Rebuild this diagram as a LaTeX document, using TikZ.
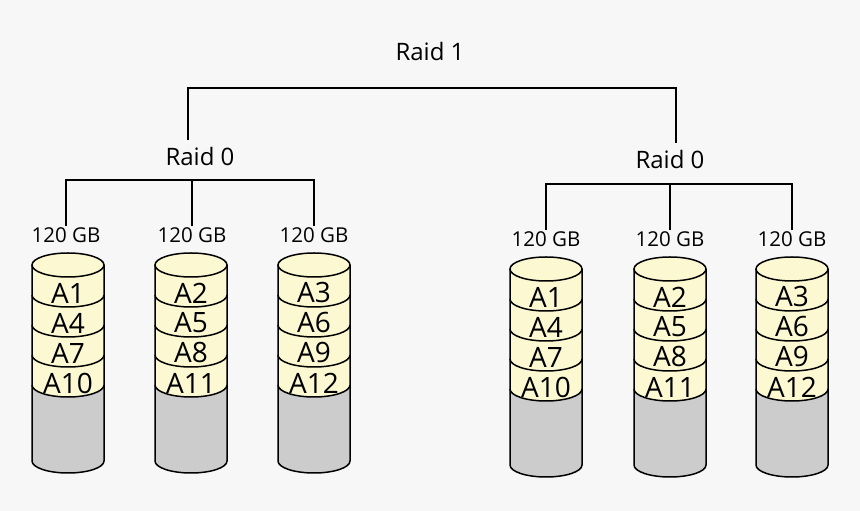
\documentclass[tikz,border=0pt]{standalone}
\usepackage{fontspec}
\setmainfont{Open Sans}
\definecolor{bg}{HTML}{F7F7F7}
\definecolor{band}{HTML}{FBF8D2}
\definecolor{base}{HTML}{CCCCCC}
\newcommand\mycyl[6]{% cx, top cy, four labels
\fill[band] ({#1-36},{#2}) -- ({#1-36},{#2-120}) arc[start angle=180,end angle=360,x radius=36,y radius=12] -- ({#1+36},{#2}) arc[start angle=0,end angle=180,x radius=36,y radius=12] -- cycle;
\fill[base] ({#1-36},{#2-120}) -- ({#1-36},{#2-196}) arc[start angle=180,end angle=360,x radius=36,y radius=12] -- ({#1+36},{#2-120}) arc[start angle=0,end angle=-180,x radius=36,y radius=12] -- cycle;
\draw[cyl] (#1,#2) ellipse[x radius=36,y radius=12];
\foreach \k in {1,2,3,4}{\draw[cyl] ({#1-36},{#2-30*\k}) arc[start angle=180,end angle=360,x radius=36,y radius=12];}
\draw[cyl] ({#1-36},{#2}) -- ({#1-36},{#2-196}) arc[start angle=180,end angle=360,x radius=36,y radius=12] -- ({#1+36},{#2});
\node[lab] at (#1,{#2-28}) {#3};
\node[lab] at (#1,{#2-58}) {#4};
\node[lab] at (#1,{#2-88}) {#5};
\node[lab] at (#1,{#2-118}) {#6};
}
\begin{document}
\begin{tikzpicture}[x=1pt,y=1pt,
  cyl/.style={line width=1.5pt,black},
  lab/.style={font=\fontsize{28}{28}\selectfont,inner sep=0pt},
  gb/.style={font=\fontsize{20.5}{20.5}\selectfont,inner sep=1pt},
  title/.style={font=\fontsize{24}{24}\selectfont,inner sep=1pt},
  tree/.style={line width=1.3pt}]
\fill[bg] (0,0) rectangle (860,511);
\useasboundingbox (0,0) rectangle (860,511);
\node[title] (raid1) at (430,459) {Raid 1};
\node[title] (r0a) at (200,354) {Raid 0};
\node[title] (r0b) at (670,351) {Raid 0};
\node[gb] (g1) at (66,276) {120 GB};
\node[gb] (g2) at (192,276) {120 GB};
\node[gb] (g3) at (314,276) {120 GB};
\node[gb] (g4) at (546,272) {120 GB};
\node[gb] (g5) at (670,272) {120 GB};
\node[gb] (g6) at (792,272) {120 GB};
\coordinate (t1) at (188,371);
\coordinate (t2) at (676,368);
\coordinate (j1) at (430,423);
\coordinate (ja) at (190,331);
\coordinate (jb) at (670,327);
\draw[tree] (t1) |- (j1) -| (t2);
\draw[tree] (g1.north) |- (ja) -| (g3.north);
\draw[tree] (g2.north) -- (g2.north |- ja);
\draw[tree] (g4.north) |- (jb) -| (g6.north);
\draw[tree] (g5.north) -- (g5.north |- jb);
\mycyl{68}{246}{A1}{A4}{A7}{A10}
\mycyl{191}{246}{A2}{A5}{A8}{A11}
\mycyl{314}{246}{A3}{A6}{A9}{A12}
\mycyl{546}{242}{A1}{A4}{A7}{A10}
\mycyl{670}{242}{A2}{A5}{A8}{A11}
\mycyl{792}{242}{A3}{A6}{A9}{A12}
\end{tikzpicture}
\end{document}
